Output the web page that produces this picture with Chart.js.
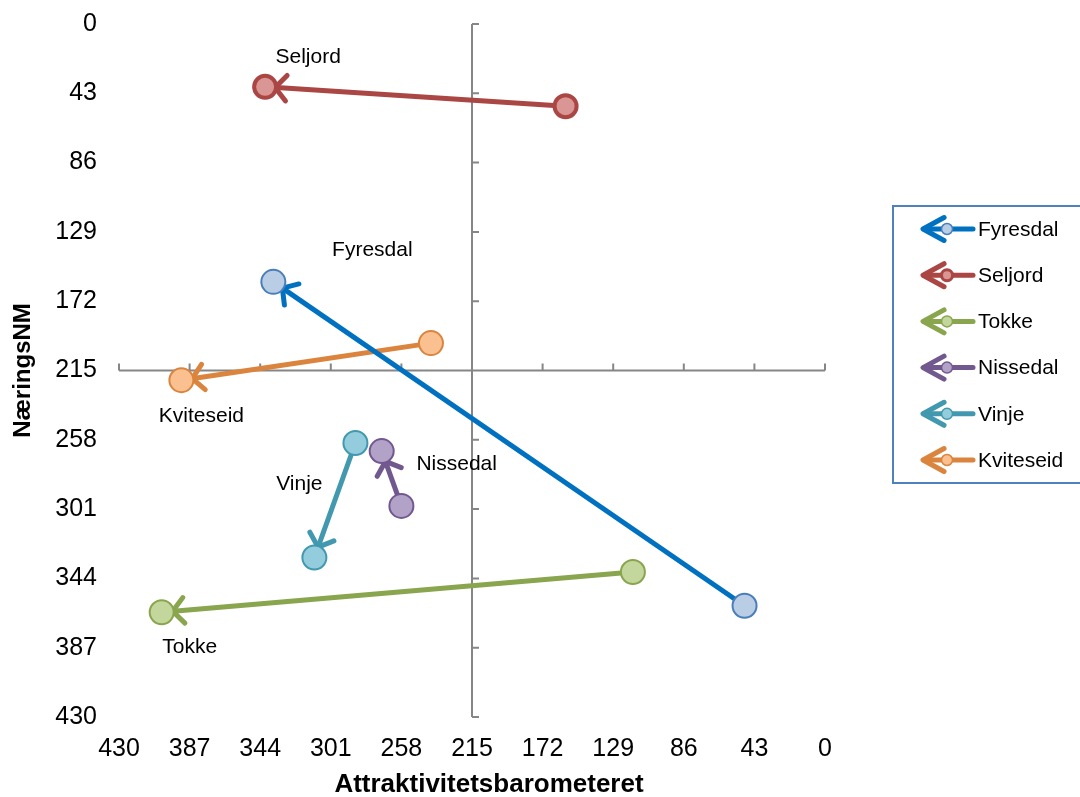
<!DOCTYPE html>
<html lang="en">
<head>
<meta charset="UTF-8">
<title>Attraktivitetsbarometeret / NæringsNM</title>
<script src="https://cdn.jsdelivr.net/npm/chart.js"></script>
<style>
  body { margin: 0; background: #fff; }
  #wrap { width: 1080px; height: 797px; }
</style>
</head>
<body>
<div id="wrap"><canvas id="chart" width="1080" height="797"></canvas></div>
<script>
// values (both axes are rankings, drawn reversed)
const kommuner = ['Fyresdal', 'Seljord', 'Tokke', 'Nissedal', 'Vinje', 'Kviteseid'];
const attrFrom = [49, 158, 117, 258, 286, 240];
const naerFrom = [361, 51, 340, 299, 260, 198];
const attrTo   = [336, 341, 404, 270, 311, 392];
const naerTo   = [160, 39, 365, 265, 331, 221];
const tickValues = [0, 43, 86, 129, 172, 215, 258, 301, 344, 387, 430];

// styling
const lineColors   = ['#0070C0', '#AA4643', '#89A54E', '#71588F', '#4198AF', '#DB843D'];
const markerFill   = ['#B9CDE5', '#D99694', '#C3D69B', '#B3A2C7', '#93CDDD', '#FAC090'];
const markerBorder = ['#4A7EBB', '#AA4643', '#89A54E', '#71588F', '#4198AF', '#DB843D'];
const markerBorderW = [2, 4, 2, 2, 2, 2];
const markerR       = [12, 11, 12, 12, 12, 12];
// label offsets (px) from the end point of each arrow
const labelOffset = [[99, -32], [43, -30], [28, 35], [75, 13], [-15, -73], [20, 36]];

const FONT = '"Liberation Sans", Arial, sans-serif';
Chart.defaults.font.family = FONT;
Chart.defaults.color = '#000';

function chevron(ctx, tx, ty, backAngle, len, spread) {
  ctx.beginPath();
  ctx.moveTo(tx + len * Math.cos(backAngle - spread), ty + len * Math.sin(backAngle - spread));
  ctx.lineTo(tx, ty);
  ctx.lineTo(tx + len * Math.cos(backAngle + spread), ty + len * Math.sin(backAngle + spread));
  ctx.stroke();
}

const decor = {
  id: 'decor',
  beforeDatasetsDraw(chart) {
    const {ctx, scales: {x, y}} = chart;
    ctx.save();
    // crossing axes at 215 / 215 with small tick marks
    ctx.strokeStyle = '#868686';
    ctx.lineWidth = 2;
    const cx = x.getPixelForValue(215), cy = y.getPixelForValue(215);
    ctx.beginPath();
    ctx.moveTo(cx, y.getPixelForValue(0));
    ctx.lineTo(cx, y.getPixelForValue(430));
    ctx.moveTo(x.getPixelForValue(430), cy);
    ctx.lineTo(x.getPixelForValue(0), cy);
    tickValues.forEach(v => {
      const py = y.getPixelForValue(v);
      ctx.moveTo(cx, py); ctx.lineTo(cx + 7, py);
      const px = x.getPixelForValue(v);
      ctx.moveTo(px, cy); ctx.lineTo(px, cy - 7);
    });
    ctx.stroke();

    // open arrow heads at the end of each line, tip on the marker edge
    ctx.lineCap = 'round';
    ctx.lineJoin = 'round';
    ctx.lineWidth = 5;
    kommuner.forEach((k, i) => {
      const x0 = x.getPixelForValue(attrFrom[i]), y0 = y.getPixelForValue(naerFrom[i]);
      const x1 = x.getPixelForValue(attrTo[i]), y1 = y.getPixelForValue(naerTo[i]);
      const a = Math.atan2(y0 - y1, x0 - x1);
      const off = markerR[i] - 1;
      ctx.strokeStyle = lineColors[i];
      chevron(ctx, x1 + off * Math.cos(a), y1 + off * Math.sin(a), a, 17, 0.85);
    });
    ctx.restore();
  },
  afterDraw(chart) {
    const {ctx, scales: {x, y}} = chart;
    ctx.save();
    // x axis title (sits a little right of the plot centre in the original)
    ctx.font = 'bold 26px ' + FONT;
    ctx.fillStyle = '#000';
    ctx.textAlign = 'center';
    ctx.textBaseline = 'middle';
    ctx.fillText('Attraktivitetsbarometeret', 489, 785);

    // data labels
    ctx.font = '21px ' + FONT;
    kommuner.forEach((k, i) => {
      const px = x.getPixelForValue(attrTo[i]) + labelOffset[i][0];
      const py = y.getPixelForValue(naerTo[i]) + labelOffset[i][1];
      ctx.fillText(k, px, py);
    });

    // legend box
    ctx.strokeStyle = '#4F81BD';
    ctx.lineWidth = 2;
    ctx.strokeRect(893, 206, 200, 277);
    ctx.textAlign = 'left';
    ctx.lineCap = 'round';
    ctx.lineJoin = 'round';
    kommuner.forEach((k, i) => {
      const cy = 229 + i * 46.2;
      ctx.strokeStyle = lineColors[i];
      ctx.lineWidth = 5;
      ctx.beginPath();
      ctx.moveTo(924, cy); ctx.lineTo(973, cy);
      ctx.stroke();
      chevron(ctx, 923, cy, 0, 24, 0.5);
      ctx.beginPath();
      ctx.arc(947, cy, 5.5, 0, Math.PI * 2);
      ctx.fillStyle = markerFill[i];
      ctx.fill();
      ctx.lineWidth = i === 1 ? 3 : 1.5;
      ctx.strokeStyle = markerBorder[i];
      ctx.stroke();
      ctx.fillStyle = '#000';
      ctx.fillText(k, 978, cy + 1);
    });
    ctx.restore();
  }
};

const datasets = kommuner.map((k, i) => ({
  label: k,
  data: [{x: attrFrom[i], y: naerFrom[i]}, {x: attrTo[i], y: naerTo[i]}],
  showLine: true,
  borderColor: lineColors[i],
  borderWidth: 5,
  pointRadius: markerR[i],
  pointBackgroundColor: markerFill[i],
  pointBorderColor: markerBorder[i],
  pointBorderWidth: markerBorderW[i],
  pointHoverRadius: markerR[i],
  clip: false
}));

new Chart(document.getElementById('chart'), {
  type: 'scatter',
  data: { datasets },
  options: {
    responsive: false,
    animation: false,
    layout: { padding: { left: 0, top: 24, right: 255, bottom: -3 } },
    plugins: { legend: { display: false }, tooltip: { enabled: false } },
    scales: {
      x: {
        type: 'linear', min: 0, max: 430, reverse: true,
        afterBuildTicks: s => { s.ticks = tickValues.map(v => ({value: v})); },
        afterFit: s => { s.height = 83; },
        grid: { display: false, drawTicks: false },
        border: { display: false },
        ticks: { padding: 17, maxRotation: 0, font: { size: 25 } },
        title: { display: false }
      },
      y: {
        type: 'linear', min: 0, max: 430, reverse: true,
        afterBuildTicks: s => { s.ticks = tickValues.map(v => ({value: v})); },
        afterFit: s => { s.width = 119; s.paddingTop = 0; s.paddingBottom = 0; },
        grid: { display: false, drawTicks: false },
        border: { display: false },
        ticks: { padding: 22, font: { size: 25 } },
        title: { display: true, text: 'NæringsNM', font: { size: 24, weight: 'bold' }, padding: { top: 9, bottom: 0 } }
      }
    }
  },
  plugins: [decor]
});
</script>
</body>
</html>
